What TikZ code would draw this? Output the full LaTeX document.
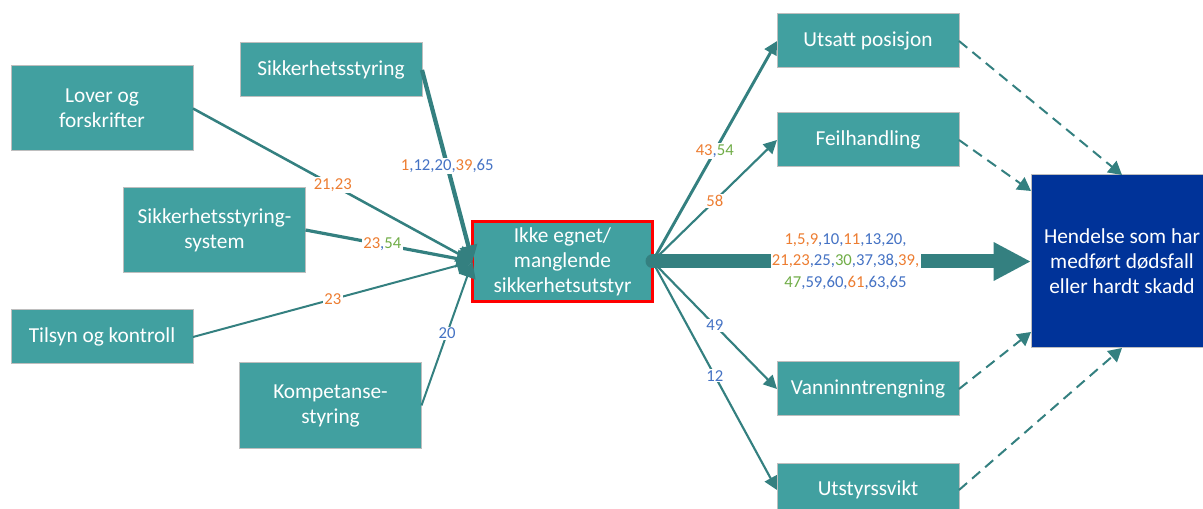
\documentclass[tikz,border=0pt]{standalone}
\usepackage{fontspec}
\setmainfont{Carlito}
\usetikzlibrary{arrows.meta}
\definecolor{boxteal}{RGB}{65,160,160}
\definecolor{lineteal}{RGB}{52,128,128}
\definecolor{boxgray}{RGB}{190,190,190}
\definecolor{tgtblue}{RGB}{0,51,153}
\definecolor{numorange}{RGB}{237,125,49}
\definecolor{numblue}{RGB}{68,114,196}
\definecolor{numgreen}{RGB}{112,173,71}
\newcommand{\onum}[1]{\textcolor{numorange}{#1}}
\newcommand{\gnum}[1]{\textcolor{numgreen}{#1}}

\begin{document}
\begin{tikzpicture}[x=0.75pt,y=-0.75pt,
  box/.style={draw=boxgray,line width=0.75pt,fill=boxteal,text=white,align=center,
    minimum width=136.5pt,minimum height=40.5pt,inner sep=2pt,outer sep=0pt,
    font=\fontsize{16}{18.75}\selectfont},
  tallbox/.style={box,minimum height=63.75pt},
  lbl/.style={fill=white,inner sep=1pt,text=numblue,align=center,
    font=\fontsize{12.5}{16}\selectfont},
  ln/.style={draw=lineteal,line width=1.9pt,-{Triangle[length=12pt,width=13pt]}},
  outln/.style={draw=lineteal,line width=1.6pt,-{Triangle[length=10pt,width=10pt]}},
  dashln/.style={draw=lineteal,line width=1.5pt,dash pattern=on 8pt off 5pt,
    -{Triangle[length=10pt,width=11pt]}}]
\useasboundingbox (0,0) rectangle (1203,509);
\clip (0,0) rectangle (1203,509);
% left side
\node[box] (sst) at (331,70) {Sikkerhetsstyring};
\node[tallbox] (lov) at (102,108.5) {Lover og\\forskrifter};
\node[tallbox] (sss) at (214.5,230) {Sikkerhetsstyring-\\system};
\node[box] (tils) at (102,337) {Tilsyn og kontroll};
\node[tallbox] (komp) at (330.5,405.5) {Kompetanse-\\styring};
% centre
\node[tallbox,draw=red,line width=2.25pt,minimum width=135pt,minimum height=60.5pt] (ctr) at (562.5,261.5) {Ikke egnet/\\manglende\\sikkerhetsutstyr};
% right side
\node[box] (utp) at (868,41) {Utsatt posisjon};
\node[box] (feil) at (868,140) {Feilhandling};
\node[box] (vann) at (868,389) {Vanninntrengning};
\node[box] (utst) at (868,490) {Utstyrssvikt};
\node[box,fill=tgtblue,minimum height=129.75pt] (tgt) at (1122,261.5) {Hendelse som har\\medført dødsfall\\eller hardt skadd};
% into centre
\draw[ln] (lov.east) -- node[lbl] {\onum{21,23}} (ctr.west);
\draw[ln,line width=3.2pt] (sst.east) -- node[lbl] {\onum{1},12,20,\onum{39},65} (ctr.west);
\draw[ln,line width=2.4pt] (sss.east) -- node[lbl,pos=0.46] {\onum{23},\gnum{54}} (ctr.west);
\draw[ln,line width=1.5pt] (tils.east) -- node[lbl] {\onum{23}} (ctr.west);
\draw[ln,line width=1.5pt] (komp.east) -- node[lbl] {20} (ctr.west);
% out of centre
\draw[outln,line width=2.2pt] (ctr.east) -- node[lbl] {\onum{43},\gnum{54}} (utp.west);
\draw[outln] (ctr.east) -- node[lbl] {\onum{58}} (feil.west);
\draw[outln] (ctr.east) -- node[lbl] {49} (vann.west);
\draw[outln] (ctr.east) -- node[lbl] {12} (utst.west);
\draw[draw=lineteal,line width=10.5pt,line cap=round,-{Triangle[length=28pt,width=27pt]}] (ctr.east) -- node[lbl,pos=0.51]
  {\onum{1,5,9},10,\onum{11},13,20,\\\onum{21,23},25,\gnum{30},37,38,\onum{39,}\\\gnum{47},59,60,\onum{61},63,65} (tgt.west);
% to the event
\draw[dashln] (utp.east) -- (tgt.north);
\draw[dashln] (feil.east) -- ([yshift=-12pt]tgt.north west);
\draw[dashln] (vann.east) -- ([yshift=12pt]tgt.south west);
\draw[dashln] (utst.east) -- (tgt.south);
\end{tikzpicture}
\end{document}
